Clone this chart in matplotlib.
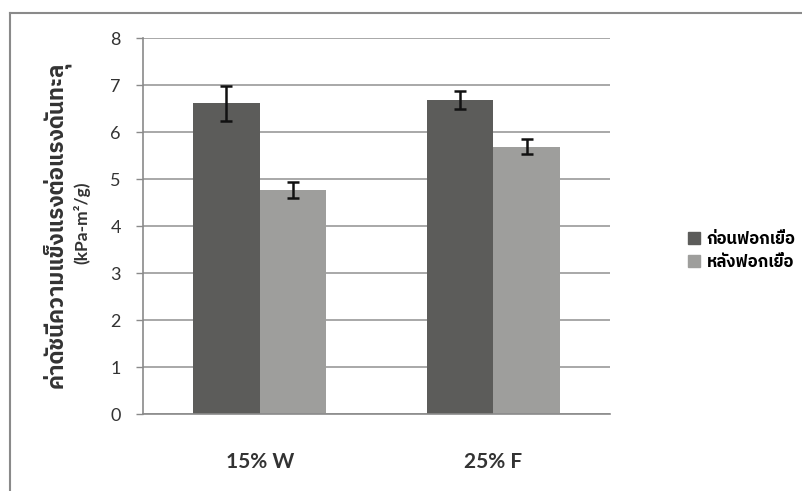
import matplotlib
matplotlib.use("Agg")
import matplotlib.pyplot as plt
from matplotlib.lines import Line2D
from matplotlib.patches import Patch
from matplotlib import font_manager, ft2font
import numpy as np


def find_thai_family():
    """Return the name of an installed font family that covers Thai script."""
    fallback = None
    for entry in font_manager.fontManager.ttflist:
        try:
            charmap = ft2font.FT2Font(entry.fname).get_charmap()
        except Exception:
            continue
        if ord('ก') in charmap and ord('ื') in charmap:
            if 'sans' in entry.name.lower() or 'thai' in entry.name.lower():
                return entry.name
            if fallback is None:
                fallback = entry.name
    return fallback


thai = find_thai_family()
families = ([thai] if thai else []) + ['Lato', 'DejaVu Sans']
plt.rcParams['font.family'] = families

categories = ["15% W", "25% F"]
series_names = ["ก่อนฟอกเยื่อ", "หลังฟอกเยื่อ"]
before_bleach = [6.62, 6.69]
before_err = [0.37, 0.19]
after_bleach = [4.78, 5.69]
after_err = [0.17, 0.16]
y_ticks = [0, 1, 2, 3, 4, 5, 6, 7, 8]
y_label_main = "ค่าดัชนีความแข็งแรงต่อแรงดันทะลุ"
y_label_unit = "(kPa-m²/g)"

dark = "#5c5c5a"
light = "#9e9e9c"

fig = plt.figure(figsize=(8.02, 4.91), dpi=100)
ax = fig.add_axes([0.1783, 0.1562, 0.5823, 0.7658])

x = np.arange(len(categories))
w = 0.285
ax.bar(x - w / 2, before_bleach, w, color=dark, zorder=2)
ax.bar(x + w / 2, after_bleach, w, color=light, zorder=2)
ax.errorbar(x - w / 2, before_bleach, yerr=before_err, fmt='none', ecolor='#111111',
            elinewidth=1.8, capsize=4, capthick=1.8, zorder=3)
ax.errorbar(x + w / 2, after_bleach, yerr=after_err, fmt='none', ecolor='#111111',
            elinewidth=1.8, capsize=4, capthick=1.8, zorder=3)

ax.set_xlim(-0.5, 1.5)
ax.set_ylim(0, 8)
ax.set_yticks(y_ticks)
ax.set_yticklabels([str(t) for t in y_ticks], fontsize=13, color='#333333', family='Lato')
ax.set_xticks(x)
ax.set_xticklabels(categories, fontsize=15, fontweight='bold', color='#333333', family='Lato')
ax.tick_params(axis='x', length=0, pad=27)
ax.tick_params(axis='y', length=5, width=1, color='#8a8a8a', pad=11)
ax.grid(axis='y', color='#9a9a9a', linewidth=1.2, zorder=0)
for side in ['top', 'right']:
    ax.spines[side].set_visible(False)
for side in ['left', 'bottom']:
    ax.spines[side].set_color('#8a8a8a')
    ax.spines[side].set_linewidth(1.2)

fig.text(56 / 802, 1 - 225 / 491, y_label_main, rotation=90, ha='center', va='center',
         fontsize=16, fontweight='bold', color='#333333')
fig.text(82 / 802, 1 - 223 / 491, y_label_unit, rotation=90, ha='center', va='center',
         fontsize=12.5, fontweight='bold', color='#333333', family=['Lato', 'DejaVu Sans'])

handles = [Patch(color=dark), Patch(color=light)]
fig.legend(handles, series_names, loc='center left', bbox_to_anchor=(0.858, 0.489),
           frameon=False, handlelength=0.7, handleheight=0.7,
           handletextpad=0.4, labelspacing=0.5, borderaxespad=0, borderpad=0,
           prop={'weight': 'bold', 'size': 12})

# outer chart frame (top and left edges)
fig.add_artist(Line2D([0.013, 1.0], [0.974, 0.974], color='#8a8a8a', linewidth=1.5,
                      transform=fig.transFigure))
fig.add_artist(Line2D([0.013, 0.013], [0.0, 0.974], color='#8a8a8a', linewidth=1.5,
                      transform=fig.transFigure))

fig.savefig("out.png", dpi=100)
